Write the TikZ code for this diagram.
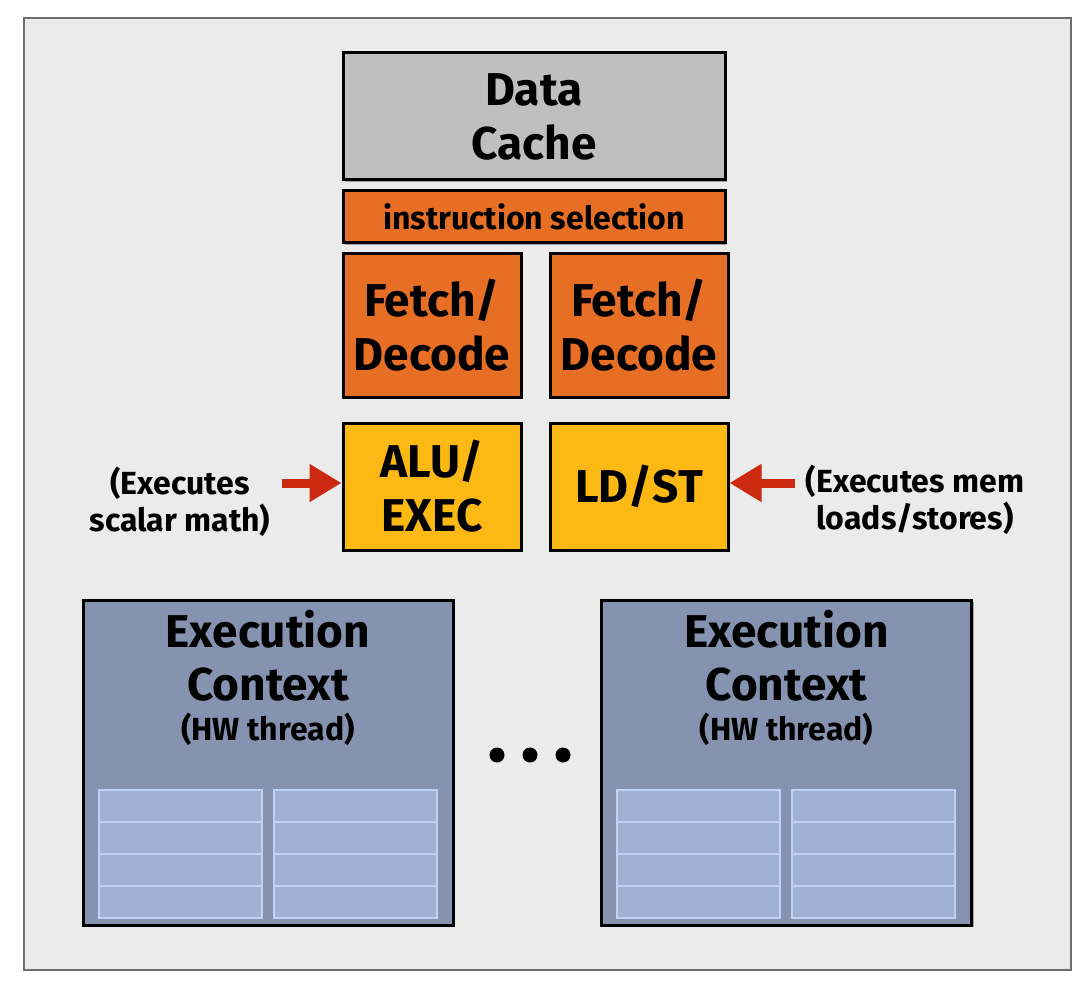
\documentclass[tikz,border=0pt]{standalone}
\usepackage{fontspec}
\setmainfont{Fira Sans}
\usetikzlibrary{positioning,calc,arrows.meta,shadows}

\definecolor{panelGray}{HTML}{EBEBEB}
\definecolor{frameGray}{HTML}{6E6E6E}
\definecolor{cacheGray}{HTML}{BFBFBF}
\definecolor{fetchOrange}{HTML}{E66E25}
\definecolor{aluYellow}{HTML}{FDB913}
\definecolor{ctxBlue}{HTML}{8592B0}
\definecolor{regBlue}{HTML}{A0B2D4}
\definecolor{regEdge}{HTML}{C2D2F7}
\definecolor{ptrRed}{HTML}{CC2A10}

\tikzset{
  unit/.style = {draw=black, line width=1.5pt, align=center, inner sep=0pt,
    font=\bfseries\fontsize{23}{27}\selectfont,
    drop shadow={shadow xshift=1.2pt, shadow yshift=-1.2pt, opacity=.3, fill=black}},
  cache/.style = {unit, fill=cacheGray, minimum width=191pt, minimum height=63.5pt},
  isel/.style = {unit, fill=fetchOrange, minimum width=191pt, minimum height=26pt,
    font=\bfseries\fontsize{16}{18}\selectfont},
  fetch/.style = {unit, fill=fetchOrange, minimum width=89pt, minimum height=71.5pt},
  alu/.style = {unit, fill=aluYellow, minimum width=89pt, minimum height=63.5pt},
  ctx/.style = {unit, fill=ctxBlue, minimum width=185pt, minimum height=162.5pt},
  reg/.style = {draw=regEdge, line width=1pt, fill=regBlue, inner sep=0pt,
    minimum width=81.5pt, minimum height=16pt, anchor=south west},
  title/.style = {align=center, inner sep=0pt, font=\bfseries\fontsize{23}{26.5}\selectfont},
  sub/.style = {inner sep=0pt, font=\bfseries\fontsize{16}{18}\selectfont},
  note/.style = {align=center, inner sep=0pt, font=\bfseries\fontsize{16}{18.5}\selectfont},
  ptr/.style = {-{Triangle[length=16pt, width=18pt]}, draw=ptrRed, line width=4.5pt}
}

\begin{document}
\begin{tikzpicture}[x=0.5pt, y=-0.5pt]
\useasboundingbox (0,0) rectangle (1086,984);
\draw [fill=panelGray, draw=frameGray, line width=1pt] (24,18) rectangle (1071,970);

% core front end
\node [cache] (cache) at (534,116.5) {Data\\Cache};
\node [isel, below=4pt of cache] (isel) {instruction selection};
\node [fetch, below right=4pt and 0pt of isel.south west] (fd1) {Fetch/\\Decode};
\node [fetch, right=13pt of fd1] (fd2) {Fetch/\\Decode};
\node [alu, below=11.5pt of fd1] (alu) {ALU/\\EXEC};
\node [alu, right=13pt of alu] (ldst) {LD/ST};

% notes
\node [note] (lnote) at (180,502) {(Executes\\scalar math)};
\node [note] (rnote) at (915,500) {(Executes mem\\loads/stores)};
\coordinate (lfoot) at (282,483);
\coordinate (rfoot) at (795,483);
\draw [ptr] (lfoot) -- (lfoot -| alu.west);
\draw [ptr] (rfoot) -- (rfoot -| ldst.east);

% execution contexts
\node [ctx] (ctx1) at (268,762.5) {};
\node [ctx] (ctx2) at (786.5,762.5) {};
\foreach \c in {ctx1,ctx2} {
  \node [title, below=5.5pt of \c.north] (\c-title) {Execution\\Context};
  \node [sub, below=5.5pt of \c-title] (\c-sub) {(HW thread)};
  \foreach \col in {0,1}
    \foreach \row in {0,...,3}
      \node [reg] (\c-r\col\row) at ($(\c.south west)+(16+175*\col,-8-32*\row)$) {};
}

% more contexts
\foreach \x [count=\i] in {497,530,563}
  \fill (\x,755) circle [radius=3.75pt];
\end{tikzpicture}
\end{document}
